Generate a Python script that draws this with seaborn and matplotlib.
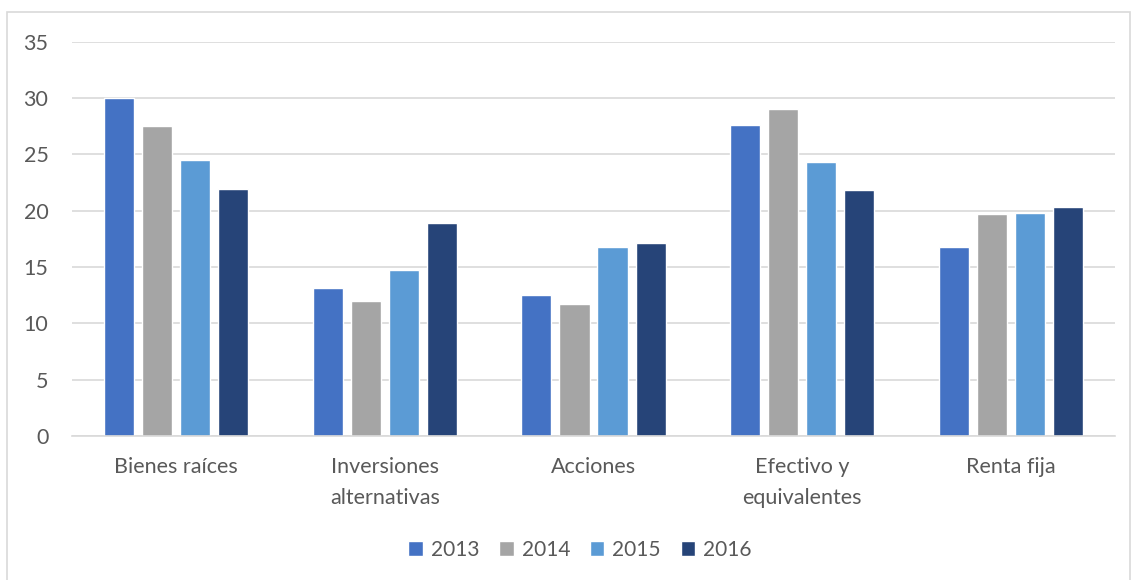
import matplotlib
matplotlib.use("Agg")
import matplotlib.pyplot as plt
import seaborn as sns
import pandas as pd
from matplotlib.patches import Rectangle

categories = ["Bienes raíces", "Inversiones\nalternativas", "Acciones",
              "Efectivo y\nequivalentes", "Renta fija"]
years = ["2013", "2014", "2015", "2016"]
v2013 = [30.0, 13.1, 12.5, 27.6, 16.8]
v2014 = [27.5, 12.0, 11.7, 29.0, 19.7]
v2015 = [24.5, 14.7, 16.8, 24.3, 19.8]
v2016 = [21.9, 18.9, 17.1, 21.8, 20.3]
colors = ["#4472C4", "#A5A5A5", "#5B9BD5", "#264478"]

rows = []
for year, vals in zip(years, [v2013, v2014, v2015, v2016]):
    for cat, v in zip(categories, vals):
        rows.append({"categoria": cat, "año": year, "valor": v})
df = pd.DataFrame(rows)

sns.set_theme(style="white")
plt.rcParams["font.family"] = ["Lato", "DejaVu Sans"]
text_color = "#595959"

fig = plt.figure(figsize=(11.31, 5.8), dpi=100)
ax = fig.add_axes([72 / 1131, 144 / 580, (1115 - 72) / 1131, (436 - 41.5) / 580])

sns.barplot(data=df, x="categoria", y="valor", hue="año", hue_order=years,
            order=categories, palette=colors, width=0.73, gap=0.21,
            saturation=1, ax=ax, legend=True)

ax.set_ylim(0, 35)
ax.set_yticks(range(0, 36, 5))
ax.set_xlim(-0.5, len(categories) - 0.5)
ax.set_xticks(range(len(categories)), categories, linespacing=1.7, va="top")
ax.grid(axis="y", color="#D9D9D9", linewidth=1.2)
ax.set_axisbelow(True)
for side in ["top", "right", "left"]:
    ax.spines[side].set_visible(False)
ax.spines["bottom"].set_color("#D9D9D9")
ax.spines["bottom"].set_linewidth(1.2)
ax.set_xlabel("")
ax.set_ylabel("")
ax.tick_params(axis="y", length=0, pad=17, labelsize=15.5, labelcolor=text_color)
ax.tick_params(axis="x", length=0, pad=15, labelsize=15.5, labelcolor=text_color)

handles, labels = ax.get_legend_handles_labels()
ax.legend_.remove()
fig.legend(handles, labels, loc="center", bbox_to_anchor=(580 / 1131, 1 - 550 / 580),
           ncol=4, frameon=False, fontsize=15, handlelength=0.7, handleheight=0.7,
           handletextpad=0.38, columnspacing=0.95, labelcolor=text_color)

# chart frame
fig.patches.append(Rectangle((7 / 1131, -0.01), (1131 - 7 - 1) / 1131, 1 - 12 / 580 + 0.01,
                             transform=fig.transFigure, fill=False,
                             edgecolor="#D9D9D9", linewidth=1.2))

fig.savefig("out.png", dpi=100)
